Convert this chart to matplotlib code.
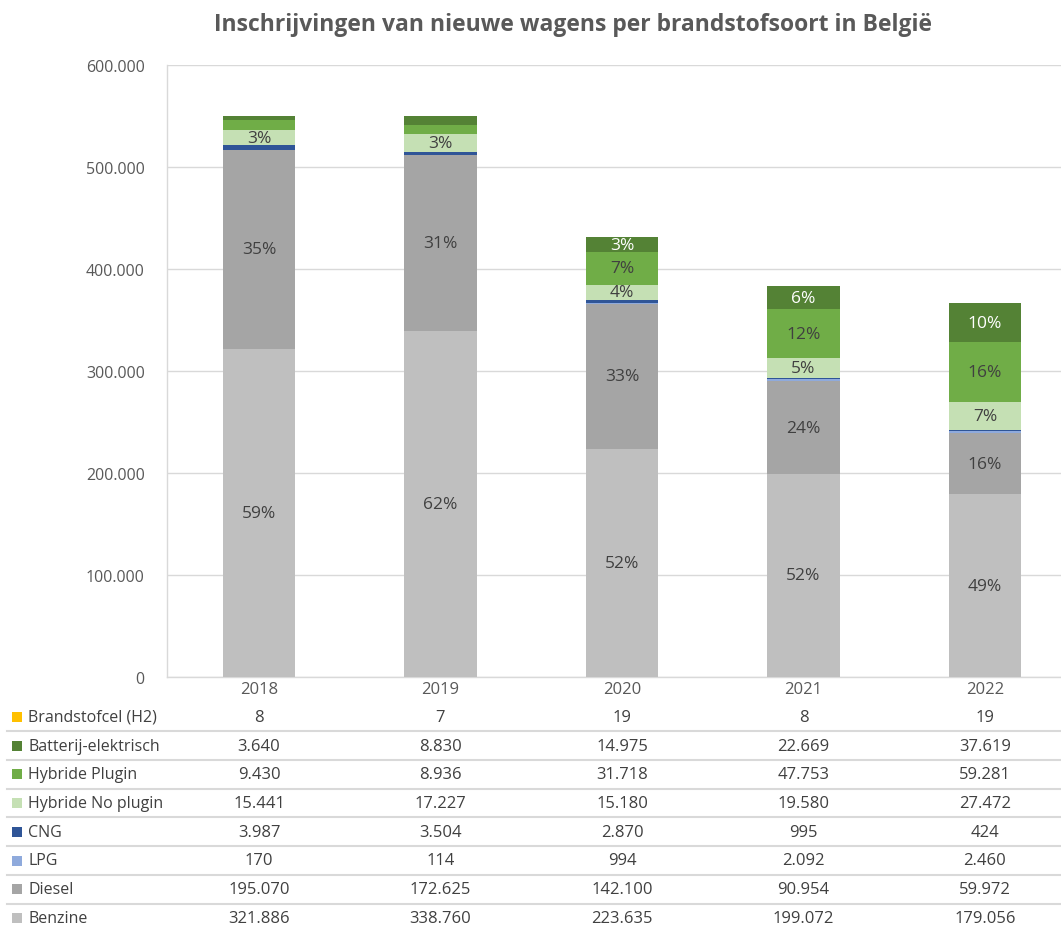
import matplotlib
matplotlib.use("Agg")
import matplotlib.pyplot as plt
from matplotlib.transforms import blended_transform_factory
from matplotlib.patches import Rectangle
from matplotlib.lines import Line2D

plt.rcParams["font.family"] = ["Open Sans", "DejaVu Sans"]

years = ["2018", "2019", "2020", "2021", "2022"]

# stacking order from bottom to top
series_names = ["Benzine", "Diesel", "LPG", "CNG", "Hybride No plugin",
                "Hybride Plugin", "Batterij-elektrisch", "Brandstofcel (H2)"]
benzine = [321886, 338760, 223635, 199072, 179056]
diesel = [195070, 172625, 142100, 90954, 59972]
lpg = [170, 114, 994, 2092, 2460]
cng = [3987, 3504, 2870, 995, 424]
hybride_no_plugin = [15441, 17227, 15180, 19580, 27472]
hybride_plugin = [9430, 8936, 31718, 47753, 59281]
batterij = [3640, 8830, 14975, 22669, 37619]
brandstofcel = [8, 7, 19, 8, 19]
series_values = [benzine, diesel, lpg, cng, hybride_no_plugin,
                 hybride_plugin, batterij, brandstofcel]

colors = ["#BFBFBF", "#A5A5A5", "#8FAADC", "#2F5597", "#C5E0B4",
          "#70AD47", "#548235", "#FFC000"]
label_colors = ["#404040", "#404040", "#404040", "#404040", "#404040",
                "#404040", "#FFFFFF", "#404040"]

W, H = 1061, 928
fig = plt.figure(figsize=(W / 100, H / 100), dpi=100)
ax_left, ax_right, ax_top, ax_bottom = 167, 1061, 66, 678
ax = fig.add_axes([ax_left / W, 1 - ax_bottom / H,
                   (ax_right - ax_left) / W, (ax_bottom - ax_top) / H])

x = list(range(len(years)))
totals = [sum(s[i] for s in series_values) for i in x]
bottoms = [0] * len(years)
for name, vals, col, lcol in zip(series_names, series_values, colors, label_colors):
    ax.bar(x, vals, width=0.40, bottom=bottoms, color=col, linewidth=0, zorder=3)
    for i in x:
        pct = vals[i] / totals[i] * 100
        if pct >= 2.5:
            ax.text(i, bottoms[i] + vals[i] / 2, f"{round(pct):d}%",
                    ha="center", va="center", fontsize=12.5, color=lcol, zorder=4)
    bottoms = [b + v for b, v in zip(bottoms, vals)]

ax.set_xlim(-0.507, 4.419)
ax.set_ylim(0, 600000)
ax.set_yticks(range(0, 600001, 100000))
ax.set_yticklabels([f"{v:,}".replace(",", ".") for v in range(0, 600001, 100000)],
                   fontsize=11.5, color="#595959")
ax.tick_params(axis="y", length=0, pad=16)
ax.set_xticks([])
ax.grid(axis="y", color="#D9D9D9", linewidth=1, zorder=0)
for side in ["top", "right"]:
    ax.spines[side].set_visible(False)
ax.spines["left"].set_color("#D9D9D9")
ax.spines["bottom"].set_color("#D9D9D9")
ax.spines["left"].set_linewidth(1)
ax.spines["bottom"].set_linewidth(1)

fig.text(573 / W, 1 - 25 / H, "Inschrijvingen van nieuwe wagens per brandstofsoort in België",
         ha="center", va="center", fontsize=16.5, fontweight="bold", color="#595959")

# data table under the chart
tr = blended_transform_factory(ax.transData, fig.transFigure)
for i, yr in enumerate(years):
    ax.text(i, 1 - 690 / H, yr, transform=tr, ha="center", va="center",
            fontsize=12, color="#595959", clip_on=False)

row_y0, row_h = 718, 28.7
table_order = list(range(len(series_names)))[::-1]
for r, k in enumerate(table_order):
    yy = row_y0 + r * row_h
    fig.patches.append(Rectangle((12 / W, 1 - (yy + 5) / H), 10 / W, 10 / H,
                                 transform=fig.transFigure, color=colors[k], linewidth=0))
    fig.text(28 / W, 1 - yy / H, series_names[k], ha="left", va="center",
             fontsize=11.5, color="#404040")
    for i in x:
        v = series_values[k][i]
        ax.text(i, 1 - yy / H, f"{v:,}".replace(",", "."), transform=tr,
                ha="center", va="center", fontsize=12, color="#404040", clip_on=False)
    if r > 0:
        ly = 1 - (yy - row_h / 2) / H
        fig.lines.append(Line2D([7 / W, 1], [ly, ly], transform=fig.transFigure,
                                color="#D9D9D9", linewidth=1.5))

fig.savefig("out.png", dpi=100)
plt.close(fig)
